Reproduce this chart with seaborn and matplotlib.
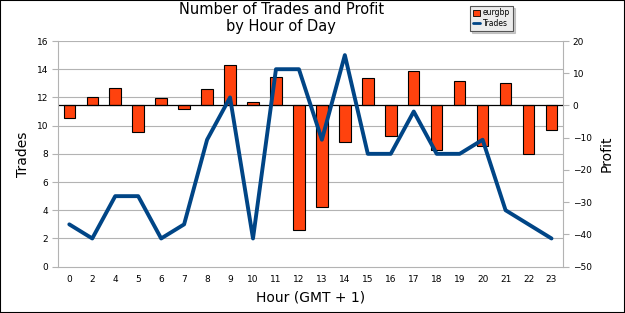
import numpy as np
import pandas as pd
import matplotlib
matplotlib.use("Agg")
import matplotlib.pyplot as plt
import matplotlib.transforms as mtransforms
from matplotlib.patches import Patch, Rectangle
from matplotlib.lines import Line2D
import seaborn as sns

# ---------------------------------------------------------------------------
# Data
# ---------------------------------------------------------------------------
hours = ["0", "2", "4", "5", "6", "7", "8", "9", "10", "11", "12",
         "13", "14", "15", "16", "17", "18", "19", "20", "21", "22", "23"]
trades = [3, 2, 5, 5, 2, 3, 9, 12, 2, 14, 14, 9, 15, 8, 8, 11, 8, 8, 9, 4, 3, 2]
profit = [-4.0, 2.5, 5.5, -8.3, 2.2, -1.0, 5.2, 12.5, 1.2, 8.8, -38.7,
          -31.5, -11.3, 8.4, -9.4, 10.8, -13.8, 7.5, -12.5, 7.1, -15.2, -7.5]

trade_ticks = [0, 2, 4, 6, 8, 10, 12, 14, 16]
profit_ticks = [-50, -40, -30, -20, -10, 0, 10, 20]

BAR_RED = "#ff420e"
LINE_BLUE = "#004586"
GRID_GREY = "#b3b3b3"

df = pd.DataFrame({"hour": hours, "trades": trades, "profit": profit})

sns.set_style("white")
plt.rcParams["font.family"] = ["DejaVu Sans"]
plt.rcParams["text.color"] = "black"
plt.rcParams["axes.labelcolor"] = "black"

fig = plt.figure(figsize=(6.25, 3.13), dpi=100)
ax = fig.add_subplot(111)
fig.subplots_adjust(left=0.0925, right=0.9008, top=0.869, bottom=0.148)
ax2 = ax.twinx()

# ---------------------------------------------------------------------------
# Bars: profit on the right axis
# ---------------------------------------------------------------------------
sns.barplot(data=df, x="hour", y="profit", color=BAR_RED, saturation=1,
            edgecolor="black", linewidth=0.8, width=0.5, ax=ax2, zorder=2)
ax2.set_ylim(-50, 20)
ax2.set_yticks(profit_ticks)
ax2.axhline(0, color="black", lw=0.9, zorder=3)
ax2.set_ylabel("Profit", fontsize=10, labelpad=6)

# horizontal grid that follows the trades scale, kept below the bars
trans = mtransforms.blended_transform_factory(ax2.transAxes, ax.transData)
for v in trade_ticks[1:]:
    ax2.plot([0, 1], [v, v], transform=trans, color=GRID_GREY, lw=0.8, zorder=0)

# ---------------------------------------------------------------------------
# Line: trades on the left axis, drawn on top
# ---------------------------------------------------------------------------
sns.lineplot(data=df, x="hour", y="trades", color=LINE_BLUE, lw=2.8,
             sort=False, ax=ax, zorder=5)
ax.set_zorder(ax2.get_zorder() + 1)
ax.patch.set_visible(False)
ax.set_ylim(0, 16)
ax.set_yticks(trade_ticks)
ax.set_xlim(-0.5, len(hours) - 0.5)
ax.set_ylabel("Trades", fontsize=10, labelpad=5)
ax.set_xlabel("Hour (GMT + 1)", fontsize=10, labelpad=5)

# ticks sit between categories on the x axis
ax.set_xticks(np.arange(-0.5, len(hours), 1), minor=True)
ax.tick_params(axis="x", which="major", length=0, labelsize=6.5, pad=6,
               labelcolor="black")
ax.tick_params(axis="x", which="minor", length=5, color=GRID_GREY, width=0.8)
ax.tick_params(axis="y", length=4, color=GRID_GREY, width=0.8, labelsize=6.5,
               pad=3, labelcolor="black")
ax2.tick_params(axis="y", length=4, color=GRID_GREY, width=0.8, labelsize=6.5,
                pad=3, labelcolor="black")

for a in (ax, ax2):
    for s in a.spines.values():
        s.set_visible(False)
ax.spines["left"].set_visible(True)
ax.spines["bottom"].set_visible(True)
ax2.spines["right"].set_visible(True)
for s in (ax.spines["left"], ax.spines["bottom"], ax2.spines["right"]):
    s.set_color(GRID_GREY)
    s.set_linewidth(0.8)

# ---------------------------------------------------------------------------
# Title, legend, border
# ---------------------------------------------------------------------------
fig.text(0.45, 0.943, "Number of Trades and Profit\nby Hour of Day",
         ha="center", va="center", fontsize=10.5, linespacing=1.15,
         color="black")

handles = [Patch(facecolor=BAR_RED, edgecolor="black", lw=0.6, label="eurgbp"),
           Line2D([], [], color=LINE_BLUE, lw=2, label="Trades")]
leg = fig.legend(handles=handles, loc="upper left", bbox_to_anchor=(0.752, 0.982),
                 frameon=True, fancybox=False, shadow={"color": "#9a9a9a", "ox": 1.5, "oy": -1.5},
                 facecolor="#ececec", edgecolor="#555555", fontsize=5.5,
                 handlelength=1.0, handleheight=0.8, borderpad=0.35,
                 labelspacing=0.25, handletextpad=0.3, borderaxespad=0,
                 framealpha=1)
leg.get_frame().set_linewidth(0.8)

fig.add_artist(Rectangle((0, 0), 1, 1, transform=fig.transFigure, fill=False,
                         edgecolor="black", lw=1.5))

fig.savefig("out.png", dpi=100)
plt.close(fig)
